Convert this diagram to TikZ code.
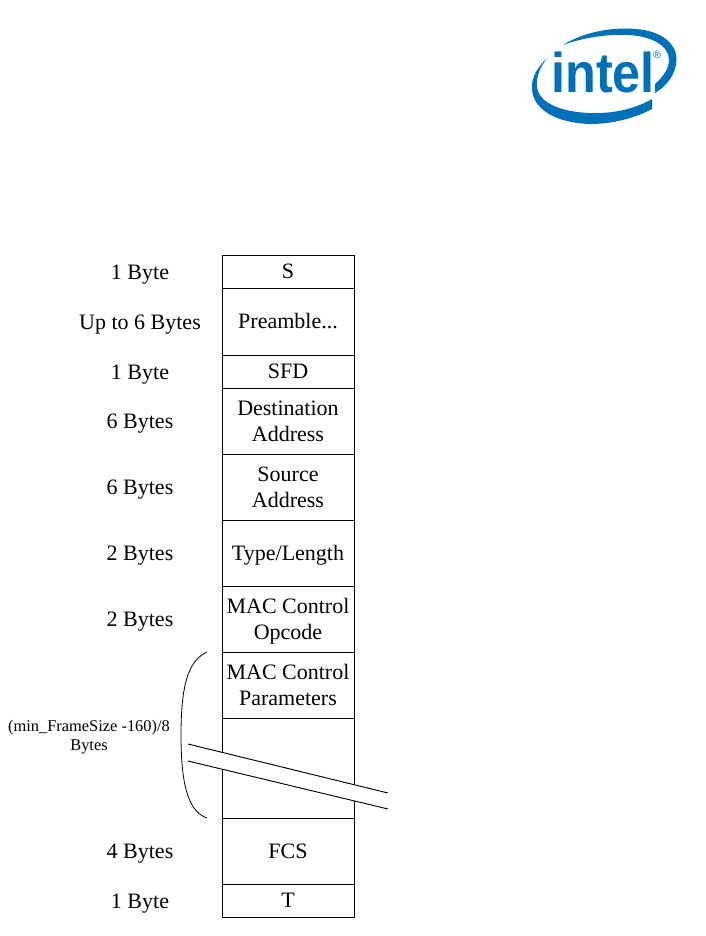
\documentclass[tikz,border=0pt]{standalone}
\usepackage{fontspec}
\setmainfont{Liberation Serif}
\newfontfamily\logofont{Liberation Sans}
\usepackage{xcolor}
\definecolor{intelblue}{HTML}{0071B9}
\usetikzlibrary{positioning}
\tikzset{
  fbox/.style ={draw=black, line width=0.7pt, minimum width=99pt, inner sep=0pt, outer sep=0pt,
                align=center, font=\fontsize{16.5}{19.5}\selectfont},
  fdrop/.style={fbox, text depth=0pt},
  blab/.style ={align=center, inner sep=0pt, yshift=-2pt, font=\fontsize{16.5}{19.5}\selectfont},
  slab/.style ={align=center, inner sep=0pt, font=\fontsize{12.3}{14.7}\selectfont},
  brk/.style  ={line width=0.7pt},
  crv/.style  ={line width=0.6pt},
  swoosh/.style={fill=intelblue, draw=none},
}
\begin{document}
\begin{tikzpicture}[x=0.75pt,y=-0.75pt]
  \useasboundingbox (0,0) rectangle (706,936);
  % frame fields
  \node[fbox, minimum height=24.75pt, anchor=north west] (s) at (222,255) {S};
  \node[fbox, minimum height=50.25pt, below=0mm of s]    (pre) {Preamble...};
  \node[fbox, minimum height=24.75pt, below=0mm of pre]  (sfd) {SFD};
  \node[fbox, minimum height=49.5pt, below=0mm of sfd]   (dst) {Destination\\Address};
  \node[fbox, minimum height=49.5pt, below=0mm of dst]   (src) {Source\\Address};
  \node[fdrop, minimum height=49.5pt, below=0mm of src]  (tl)  {Type/Length};
  \node[fdrop, minimum height=49.5pt, below=0mm of tl]   (opc) {MAC Control\\Opcode};
  \node[fbox, minimum height=49.5pt, below=0mm of opc]   (par) {MAC Control\\Parameters};
  \node[fbox, minimum height=75pt, below=0mm of par]     (pad) {};
  \node[fbox, minimum height=49.5pt, below=0mm of pad]   (fcs) {FCS};
  \node[fbox, minimum height=24.75pt, below=0mm of fcs]  (t)   {T};
  % sizes
  \node[blab] (ls)   at (140,0 |- s)   {1 Byte};
  \node[blab] (lpre) at (140,0 |- pre) {Up to 6 Bytes};
  \node[blab] (lsfd) at (140,0 |- sfd) {1 Byte};
  \node[blab] (ldst) at (140,0 |- dst) {6 Bytes};
  \node[blab] (lsrc) at (140,0 |- src) {6 Bytes};
  \node[blab] (ltl)  at (140,0 |- tl)  {2 Bytes};
  \node[blab] (lopc) at (140,0 |- opc) {2 Bytes};
  \node[blab] (lfcs) at (140,0 |- fcs) {4 Bytes};
  \node[blab] (lt)   at (140,0 |- t)   {1 Byte};
  \node[slab] (lpar) at (89,737) {(min\_FrameSize -160)/8\\Bytes};
  % break in the padding field
  \coordinate (ba) at (188,744);
  \coordinate (bb) at (388,793);
  \coordinate (bc) at (188,761);
  \coordinate (bd) at (388,809);
  \fill[white] (ba) -- (bb) -- (bd) -- (bc) -- cycle;
  \draw[brk] (ba) -- (bb);
  \draw[brk] (bc) -- (bd);
  % curly side mark
  \coordinate (ct) at (207,652);
  \coordinate (cm) at (181,735);
  \coordinate (cb) at (207,818);
  \draw[crv] (ct) .. controls (190,660) and (181,680) .. (cm)
             .. controls (181,790) and (190,812) .. (cb);
  % logo
  \fill[swoosh] (563,45) .. controls (585,31) and (615,27) .. (636,29)
     .. controls (662,31) and (677,44) .. (676.5,60)
     .. controls (676,74) and (667,86) .. (655,93)
     -- (655,84) .. controls (664,76) and (669,68) .. (669,60)
     .. controls (669,46) and (652,36) .. (628,35)
     .. controls (606,34) and (582,38) .. (563,45) -- cycle;
  \fill[swoosh] (547,58) .. controls (537,68) and (531,78) .. (532,89)
     .. controls (533,110) and (557,123) .. (590,124)
     .. controls (615,124) and (637,117) .. (652,109)
     -- (652,99) .. controls (635,109) and (612,114) .. (590,113)
     .. controls (561,112) and (538,103) .. (537,86)
     .. controls (536,76) and (541,66) .. (547,58) -- cycle;
  \node[inner sep=0pt, anchor=base west, xscale=0.9, transform shape, text=intelblue,
        font=\logofont\bfseries\fontsize{42}{42}\selectfont] (logo) at (551,92) {intel};
  \node[inner sep=0pt, text=intelblue, font=\logofont\fontsize{8}{8}\selectfont] (reg) at (657,55) {®};
\end{tikzpicture}
\end{document}
